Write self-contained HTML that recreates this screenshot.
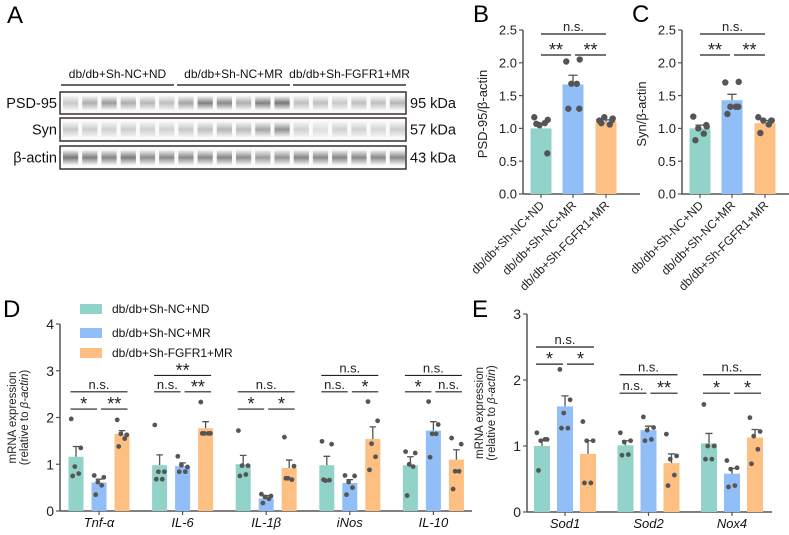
<!DOCTYPE html>
<html><head><meta charset="utf-8"><style>
html,body{margin:0;padding:0;background:#fff;}
svg{display:block;font-family:"Liberation Sans",Arial,sans-serif;}
</style></head><body>
<svg id="fig" width="789" height="535" viewBox="0 0 789 535" xmlns="http://www.w3.org/2000/svg"></svg>
<script>
// ---------- DATA ----------
const groupNames = ["db/db+Sh-NC+ND","db/db+Sh-NC+MR","db/db+Sh-FGFR1+MR"];
const colors = ["#91d3c8","#92bef7","#fdbf82"];
// Panel A blot band intensities (0..1 darkness), 18 lanes
const psdBands = [0.25,0.4,0.5,0.4,0.35,0.3,0.45,0.65,0.6,0.4,0.65,0.7,0.3,0.3,0.25,0.3,0.3,0.35];
const synBands = [0.25,0.22,0.2,0.22,0.2,0.2,0.25,0.3,0.35,0.33,0.45,0.55,0.2,0.12,0.2,0.2,0.17,0.22];
const actBands = [0.7,0.65,0.62,0.68,0.58,0.6,0.6,0.6,0.62,0.58,0.5,0.55,0.62,0.6,0.62,0.6,0.6,0.6];
// Panel B
const bMeans = [1.0,1.67,1.1];
const bErr = [1.08,1.81,1.13];
const bPts = [[1.17,1.13,1.05,1.08,1.07,0.62],[2.02,2.05,1.68,1.68,1.3,1.3],[1.12,1.15,1.17,1.06,1.08,1.13]];
// Panel C
const cMeans = [1.0,1.43,1.08];
const cErr = [1.05,1.52,1.12];
const cPts = [[1.18,1.03,1.0,0.92,0.82,1.05],[1.7,1.71,1.33,1.33,1.22,1.33],[1.17,1.12,1.12,1.06,0.93,1.12]];
const bcTicks = ["0.0","0.5","1.0","1.5","2.0","2.5"];
// Panel D
const dCats = ["Tnf-α","IL-6","IL-1β","iNos","IL-10"];
const dMeans = [[1.16,0.61,1.65],[0.98,0.96,1.77],[1.0,0.27,0.92],[0.98,0.6,1.54],[0.98,1.72,1.1]];
const dErr = [[1.38,0.68,1.72],[1.2,1.03,1.91],[1.19,0.33,1.09],[1.17,0.67,1.8],[1.16,1.91,1.31]];
const dPts = [
 [[1.97,1.35,0.95,0.8,0.75],[0.76,0.72,0.62,0.55,0.35],[1.95,1.63,1.65,1.55,1.38]],
 [[1.84,0.84,0.84,0.68,0.68],[1.17,0.94,0.98,0.84,0.84],[2.33,1.66,1.66,1.66,1.66]],
 [[1.72,0.97,0.97,0.78,0.75],[0.36,0.32,0.3,0.26,0.17],[1.58,0.96,0.7,0.67,0.7]],
 [[1.49,1.43,0.65,0.66,0.67],[0.76,0.75,0.62,0.5,0.35],[2.34,1.93,1.44,1.16,0.88]],
 [[1.27,1.24,1.0,0.95,0.33],[2.34,1.85,1.65,1.65,1.15],[1.56,1.43,0.85,0.85,0.47]]];
const dSig = [["n.s.","*","**"],["**","n.s.","**"],["n.s.","*","*"],["n.s.","n.s.","*"],["n.s.","*","n.s."]];
const dSigLevel = [[2.55,2.18],[2.9,2.55],[2.55,2.18],[2.9,2.55],[2.9,2.55]];
const dTicks = ["0","1","2","3","4"];
// Panel E
const eCats = ["Sod1","Sod2","Nox4"];
const eMeans = [[1.0,1.6,0.88],[1.01,1.24,0.74],[1.04,0.58,1.13]];
const eErr = [[1.08,1.76,1.08],[1.08,1.3,0.88],[1.19,0.66,1.25]];
const ePts = [
 [[1.2,1.1,1.08,1.1,0.63],[2.16,1.7,1.5,1.27,1.27],[1.37,1.08,1.08,0.44,0.44]],
 [[1.2,1.08,1.06,0.87,0.86],[1.44,1.28,1.24,1.1,1.08],[1.18,0.85,0.8,0.56,0.4]],
 [[1.63,1.0,1.0,0.8,0.8],[0.78,0.67,0.65,0.4,0.38],[1.43,1.22,1.15,0.95,0.73]]];
const eSig = [["n.s.","*","*"],["n.s.","n.s.","**"],["n.s.","*","*"]];
const eSigLevel = [[2.5,2.24],[2.08,1.8],[2.08,1.8]];
const eTicks = ["0","1","2","3"];

// ---------- HELPERS ----------
const NS="http://www.w3.org/2000/svg";
const svg=document.getElementById('fig');
function mk(tag,attrs,parent){const e=document.createElementNS(NS,tag);for(const k in attrs)e.setAttribute(k,attrs[k]);(parent||svg).appendChild(e);return e;}
function txt(s,attrs,parent){const e=mk('text',attrs,parent);e.textContent=s;return e;}
const jit=[-0.32,0.32,-0.08,0.18,-0.22,0.3];

function panelAxes(g,x0,x1,y0,y1,ticks,vmax,name,fs){
  const yS=v=>y0-(v/vmax)*(y0-y1);
  const ya=mk('line',{x1:x0,y1:y1,x2:x0,y2:y0,stroke:'#555','stroke-width':1.5},g);
  
  
  const xa=mk('line',{x1:x0,y1:y0,x2:x1,y2:y0,stroke:'#555','stroke-width':1.5},g);
  
  
  ticks.forEach((t,i)=>{
    const v=parseFloat(t);
    mk('line',{x1:x0-4,y1:yS(v),x2:x0,y2:yS(v),stroke:'#555','stroke-width':1.2},g);
    const tl=txt(t,{x:x0-6,y:yS(v)+fs*0.36,'text-anchor':'end','font-size':fs,fill:'#222'},g);
    
    
  });
  return yS;
}
function drawBar(g,cx,w,mean,err,pts,color,yS,y0,name,dotR){
  const b=mk('rect',{x:cx-w/2,y:yS(mean),width:w,height:y0-yS(mean),fill:color},g);
  
  
  const e=mk('path',{d:`M${cx},${yS(mean)}V${yS(err)}M${cx-w*0.22},${yS(err)}H${cx+w*0.22}`,stroke:'#555','stroke-width':1.3,fill:'none'},g);
  
  
  pts.forEach((p,i)=>{
    const c=mk('circle',{cx:cx+jit[i]*w,cy:yS(p),r:dotR,fill:'#555'},g);
    
    
  });
}
function sigLine(g,xa,xb,y,label,fs){
  const l=mk('line',{x1:xa,y1:y,x2:xb,y2:y,stroke:'#222','stroke-width':1.2},g);
  
  
  const t=txt(label,{x:(xa+xb)/2,y:label.indexOf('*')>=0?y+1:y-3,'text-anchor':'middle','font-size':label.indexOf('*')>=0?fs+5:fs,fill:'#222'},g);
  
  
}
function letter(s,x,y){const t=txt(s,{x:x,y:y,'font-size':24,fill:'#000'});}

// ---------- PANEL A ----------
letter('A',7,23);
const gA=mk('g',{});


const groupX=[[61,174],[177,290],[293,406]];
groupNames.forEach((n,i)=>{
  const t=txt(n,{x:(groupX[i][0]+groupX[i][1])/2,y:78,'text-anchor':'middle','font-size':12,fill:'#111'},gA);
  
  
  mk('line',{x1:groupX[i][0],y1:85,x2:groupX[i][1],y2:85,stroke:'#333','stroke-width':1.5},gA);
});
const defs=mk('defs',{});
const rows=[["PSD-95",psdBands,92,114,"95 kDa"],["Syn",synBands,118,141,"57 kDa"],["β-actin",actBands,146,169,"43 kDa"]];
rows.forEach((r,ri)=>{
  const [lab,bands,yt,yb,kd]=r;
  const rl=txt(lab,{x:57,y:(yt+yb)/2+5,'text-anchor':'end','font-size':14.5,fill:'#111'},gA);
  
  
  const box=mk('rect',{x:60,y:yt,width:346,height:yb-yt,fill:'#fafafa',stroke:'#3a3030','stroke-width':1.5},gA);
  
  
  const lw=346/18;
  bands.forEach((d,i)=>{
    const gid='bg'+ri+'_'+i;
    const lg=mk('linearGradient',{id:gid,x1:0,y1:0,x2:0,y2:1},defs);
    const g=Math.round(245-d*180);
    mk('stop',{offset:'0','stop-color':'#f4f4f4'},lg);
    mk('stop',{offset:'0.5','stop-color':`rgb(${g},${g},${g})`},lg);
    mk('stop',{offset:'1','stop-color':'#f4f4f4'},lg);
    const bd=mk('rect',{x:61+i*lw+2,y:yt+4,width:lw-4,height:yb-yt-8,fill:`url(#${gid})`},gA);
    
    
  });
  const kl=txt(kd,{x:410,y:(yt+yb)/2+5,'font-size':14.5,fill:'#111'},gA);
  
  
});

// ---------- PANELS B & C ----------
function panelBC(letterS,ax,means,errs,pts,ylab,name){
  letter(letterS,ax-50,22);
  const g=mk('g',{});
  
  
  const y0=194,y1=30;
  const yS=panelAxes(g,ax,ax+117,y0,y1,bcTicks,2.5,name,13);
  const cxs=[ax+18,ax+50,ax+83];
  means.forEach((m,i)=>{
    drawBar(g,cxs[i],21,m,errs[i],pts[i],colors[i],yS,y0,name+'-group'+(i+1),3.2);
    mk('line',{x1:cxs[i],y1:y0,x2:cxs[i],y2:y0+4,stroke:'#555','stroke-width':1.2},g);
    const t=txt(groupNames[i],{x:cxs[i]+4,y:y0+12,'text-anchor':'end','font-size':12,fill:'#222',transform:`rotate(-45 ${cxs[i]+4} ${y0+12})`},g);
    
    
  });
  const yl=txt(ylab,{x:0,y:0,'text-anchor':'middle','font-size':13,fill:'#222',transform:`translate(${ax-36},${(y0+y1)/2+2}) rotate(-90)`},g);
  
  
  sigLine(g,cxs[0],cxs[2],34,'n.s.',13);
  sigLine(g,cxs[0],cxs[1]-2,55,'**',13);
  sigLine(g,cxs[1]+2,cxs[2],55,'**',13);
}
panelBC('B',523,bMeans,bErr,bPts,'PSD-95/β-actin','psd95-panel');
panelBC('C',682,cMeans,cErr,cPts,'Syn/β-actin','syn-panel');

// ---------- PANELS D & E ----------
function panelDE(letterS,lx,ax,axEnd,y0,y1,vmax,ticks,cats,means,errs,pts,sig,sigLv,c0,gap,bw,step,name){
  letter(letterS,lx,317);
  const g=mk('g',{});
  
  
  const yS=panelAxes(g,ax,axEnd,y0,y1,ticks,vmax,name,14);
  cats.forEach((c,ci)=>{
    const cc=c0+ci*step;
    const cxs=[cc-gap,cc,cc+gap];
    means[ci].forEach((m,i)=>drawBar(g,cxs[i],bw,m,errs[ci][i],pts[ci][i],colors[i],yS,y0,name+'-'+c+'-group'+(i+1),2.4));
    mk('line',{x1:cc,y1:y0,x2:cc,y2:y0+4,stroke:'#555','stroke-width':1.2},g);
    const t=txt(c,{x:cc,y:y0+16,'text-anchor':'middle','font-size':13,'font-style':'italic',fill:'#111'},g);
    
    
    sigLine(g,cxs[0]-bw/2+2,cxs[2]+bw/2-2,yS(sigLv[ci][0]),sig[ci][0],13);
    sigLine(g,cxs[0]-bw/2+2,cxs[1]-2,yS(sigLv[ci][1]),sig[ci][1],13);
    sigLine(g,cxs[1]+2,cxs[2]+bw/2-2,yS(sigLv[ci][1]),sig[ci][2],13);
  });
  const yl=mk('text',{'text-anchor':'middle','font-size':11.5,fill:'#222',transform:`translate(${ax-44},${(y0+y1)/2}) rotate(-90)`},g);
  
  
  const t1=mk('tspan',{x:0,dy:0},yl);t1.textContent='mRNA expression';
  const t2=mk('tspan',{x:0,dy:12},yl);t2.textContent='(relative to ';
  const t3=mk('tspan',{'font-style':'italic'},yl);t3.textContent='β-actin';
  const t4=mk('tspan',{},yl);t4.textContent=')';
  yl.appendChild(t2);yl.appendChild(t3);yl.appendChild(t4);
}
panelDE('D',3,60,472,511,324,4,dTicks,dCats,dMeans,dErr,dPts,dSig,dSigLevel,99,23,15,83.6,'inflammation-panel');
panelDE('E',472,527,772,512,314,3,eTicks,eCats,eMeans,eErr,ePts,eSig,eSigLevel,565,23,16,83.5,'oxidative-panel');

// legend
const lg=mk('g',{});


[309,333,353].forEach((y,i)=>{
  const s=mk('rect',{x:80,y:y-5,width:22,height:10,fill:colors[i]},lg);
  
  
  const t=txt(groupNames[i],{x:112,y:y+4,'font-size':12,fill:'#111'},lg);
  
  
});
</script>
</body></html>
